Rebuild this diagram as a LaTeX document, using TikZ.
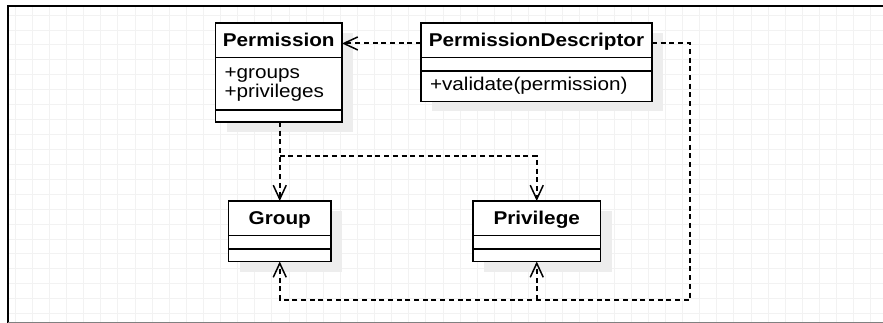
\documentclass[tikz,border=0pt]{standalone}
\usepackage{fontspec}
\setmainfont[FakeStretch=1.12]{Liberation Sans}
\usetikzlibrary{positioning,arrows.meta,backgrounds}

\begin{document}
\begin{tikzpicture}[x=1pt, y=-1pt,
      every node/.style = {shape=rectangle, draw, line width=1.9pt,
        fill=white, inner sep=0pt, outer sep=0pt,
        font=\fontsize{18.5}{19}\selectfont},
      classhead/.style = {minimum height=34.5pt, text height=13.3pt,
        text depth=0pt, font=\fontsize{18.5}{19}\selectfont\bfseries},
      classpart/.style = {below=0pt of #1},
      classtext/.style = {align=left, text height=13.3pt, inner xsep=9pt},
      dep/.style = {draw, line width=1.9pt, dash pattern=on 5pt off 3.7pt,
        -{Straight Barb[length=14pt, width=13pt, line width=1.5pt]}},
      gridline/.style = {draw=black!5, line width=0.8pt},
      classshadow/.style = {fill=black!7}]
  \useasboundingbox (0,0) rectangle (883,323);

  % paper grid
  \begin{scope}[on background layer]
    \foreach \gx in {0,...,50}
      \draw[gridline] (15.2+17.11*\gx,7) -- (15.2+17.11*\gx,322);
    \foreach \gy in {0,...,20}
      \draw[gridline] (9,15+14.93*\gy) -- (883,15+14.93*\gy);
  \end{scope}

  % classes
  \node[classhead, minimum width=126.5pt] (permhead) at (278.75,40.25) {Permission};
  \node[classpart=permhead, classtext, minimum height=52.5pt, text width=108.5pt] (permattr)
    {+groups\\+privileges};
  \node[classpart=permattr, minimum height=12pt, minimum width=126.5pt] (permops) {};

  \node[classhead, minimum width=231pt] (pdhead) at (536.5,40.25) {PermissionDescriptor};
  \node[classpart=pdhead, minimum height=13.5pt, minimum width=231pt] (pdattr) {};
  \node[classpart=pdattr, classtext, minimum height=30.5pt, text width=213pt] (pdops)
    {+validate(permission)};

  \node[classhead, minimum width=102.5pt] (grphead) at (279.75,218.25) {Group};
  \node[classpart=grphead, minimum height=13.5pt, minimum width=102.5pt] (grpattr) {};
  \node[classpart=grpattr, minimum height=12.5pt, minimum width=102.5pt] (grpops) {};

  \node[classhead, minimum width=127.5pt] (prvhead) at (536.75,218.25) {Privilege};
  \node[classpart=prvhead, minimum height=13.5pt, minimum width=127.5pt] (prvattr) {};
  \node[classpart=prvattr, minimum height=12.5pt, minimum width=127.5pt] (prvops) {};

  % shadows
  \begin{scope}[on background layer]
    \fill[classshadow] ([shift={(11,10)}]permhead.north west) rectangle ([shift={(11,10)}]permops.south east);
    \fill[classshadow] ([shift={(11,10)}]pdhead.north west) rectangle ([shift={(11,10)}]pdops.south east);
    \fill[classshadow] ([shift={(11,10)}]grphead.north west) rectangle ([shift={(11,10)}]grpops.south east);
    \fill[classshadow] ([shift={(11,10)}]prvhead.north west) rectangle ([shift={(11,10)}]prvops.south east);
  \end{scope}

  % dependencies
  \coordinate (permsplit) at (279.75,156);
  \coordinate (pdturn) at (690,300);
  \draw[dep] ([yshift=-3.2pt]pdhead.west) -- ([yshift=-3.2pt]permhead.east);
  \draw[dep] (grphead.north |- permops.south) -- (grphead.north);
  \draw[dep] (permsplit) -| (prvhead.north);
  \draw[dep] ([yshift=-3.2pt]pdhead.east) -| (pdturn) -| (grpops.south);
  \draw[dep] (prvops.south |- pdturn) -- (prvops.south);

  % frame
  \draw[line width=2.6pt] (8,323) -- (8,6.2) -- (883,6.2);
  \draw[black!50, line width=1.2pt] (8,322.4) -- (883,322.4);
\end{tikzpicture}
\end{document}
